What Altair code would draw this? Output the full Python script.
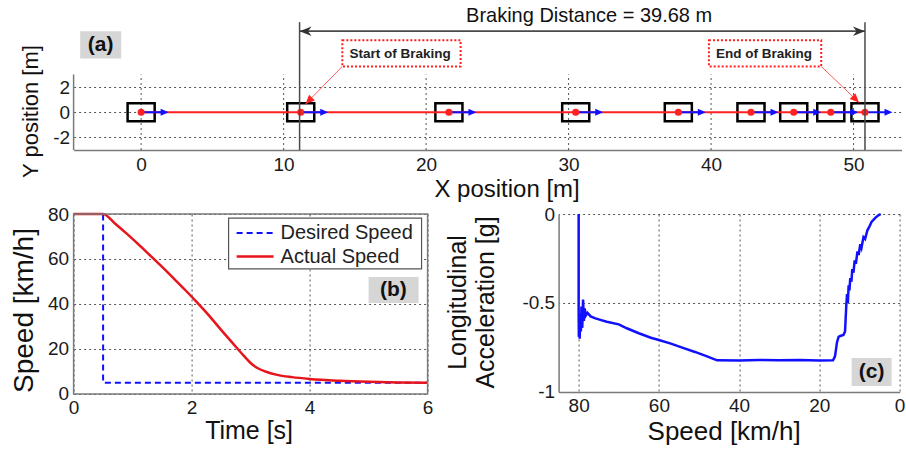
import altair as alt
import pandas as pd

FONT = "Liberation Sans"
RED = "#ff2020"
BLUE = "#1010ff"
GRID = "#555555"
AXIS = "#7a7a7a"
TAG_BG = "#d6d6d6"

# (a) vehicle trajectory
car_x = [0.0, 11.2, 21.6, 30.5, 37.7, 42.8, 45.8, 48.4, 50.8]
brake_start = 11.12
braking_distance = 39.68
x_ticks_a = [0, 10, 20, 30, 40, 50]
y_ticks_a = [-2, 0, 2]

# (b) speed vs time
t_desired = [0.0, 0.5, 0.5, 6.0]
v_desired = [80, 80, 5, 5]
t_actual = [0.0, 0.5, 0.7, 0.9, 1.1, 1.3, 1.5, 1.7, 1.9, 2.1, 2.3, 2.5,
            2.7, 2.85, 3.0, 3.1, 3.25, 3.45, 3.7, 4.0, 4.5, 5.0, 5.5, 6.0]
v_actual = [80, 80, 75.8, 71.3, 66.5, 61.5, 56.5, 51.3, 46.0, 40.5, 34.7, 28.5,
            22.5, 18.0, 13.8, 11.8, 10.0, 8.5, 7.5, 6.7, 5.9, 5.4, 5.1, 5.0]
series_names = ["Desired Speed", "Actual Speed"]
t_ticks_b = [0, 2, 4, 6]
v_ticks_b = [0, 20, 40, 60, 80]

# (c) longitudinal acceleration vs speed
speed_c = [80.0, 80.0, 79.95, 79.85, 79.75, 79.6, 79.45, 79.3, 79.1, 78.9,
           78.7, 78.5, 78.2, 77.8, 77.0, 76.0, 75.0, 73.0, 70.0, 68.0,
           65.0, 62.0, 60.0, 57.0, 54.0, 51.0, 48.0, 45.5, 40.0, 35.0,
           30.0, 25.0, 20.0, 16.6, 16.1, 15.6, 15.2, 14.8, 14.0, 13.6,
           13.3, 13.1, 12.9, 12.7, 12.5, 12.3, 12.0, 11.8, 11.5, 11.2,
           10.9, 10.5, 10.2, 9.8, 9.5, 9.0, 8.6, 8.0, 7.5, 7.0,
           6.0, 5.2, 4.7]
accel_c = [0.0, -0.55, -0.69, -0.60, -0.70, -0.56, -0.66, -0.52, -0.64, -0.48,
           -0.60, -0.53, -0.57, -0.555, -0.575, -0.585, -0.592, -0.605, -0.62, -0.642,
           -0.67, -0.695, -0.708, -0.728, -0.752, -0.775, -0.80, -0.822, -0.823, -0.82,
           -0.822, -0.82, -0.823, -0.822, -0.80, -0.72, -0.69, -0.685, -0.68, -0.66,
           -0.52, -0.45, -0.50, -0.40, -0.43, -0.36, -0.38, -0.31, -0.33, -0.26,
           -0.28, -0.21, -0.23, -0.17, -0.19, -0.13, -0.14, -0.09, -0.07, -0.045,
           -0.02, -0.006, 0.0]
speed_ticks_c = [0, 20, 40, 60, 80]
accel_ticks_c = [-1, -0.5, 0]

# arrowhead glyphs (tip at the origin)
HEAD_RIGHT = "M0,0L-1,-0.45L-1,0.45Z"
HEAD_UP = "M0,0L-0.45,1L0.45,1Z"
STEALTH_R = "M0,0L-1,-0.4L-0.7,0L-1,0.4Z"
STEALTH_L = "M0,0L1,-0.4L0.7,0L1,0.4Z"


def axis(**kw):
    base = dict(labelFont=FONT, labelFontSize=19, labelColor="#1a1a1a", labelFlush=False,
                labelOverlap=False, ticks=False, tickSize=0, titleFont=FONT,
                titleFontWeight="normal", titleColor="#111111", gridColor=GRID,
                gridDash=[2, 3], gridWidth=1, domainColor=AXIS, domainWidth=1.5)
    base.update(kw)
    return alt.Axis(**base)


def tag(df, X, Y, size=21):
    box = alt.Chart(df).mark_rect(fill=TAG_BG).encode(x=X("x0"), x2="x1", y=Y("y0"), y2="y1")
    txt = alt.Chart(df).mark_text(font=FONT, fontSize=size, fontWeight="bold", color="#111111",
                                  align="center", baseline="middle").encode(
        x=X("tx"), y=Y("ty"), text="label:N")
    return [box, txt]


# ---------------- panel (a) ----------------
XMIN, XMAX = -4.74, 53.37
SC_XA = alt.Scale(domain=[XMIN, XMAX], nice=False, zero=False)
SC_YA = alt.Scale(domain=[-3, 8.92], nice=False, zero=False)
AX_XA = axis(values=x_ticks_a, grid=False, labelPadding=5, title="X position [m]",
             titleFontSize=24, titleX=433, titleY=46, titleBaseline="alphabetic",
             titleAlign="center")
AX_YA = axis(values=y_ticks_a, grid=True, domain=False, labelPadding=4,
             labelExpr="toString(datum.value)", title="Y position [m]", titleFontSize=22,
             titleAngle=270, titleX=-36, titleY=111, titleBaseline="alphabetic",
             titleAlign="center")


def XA(f):
    return alt.X(f, type="quantitative", scale=SC_XA, axis=AX_XA)


def YA(f):
    return alt.Y(f, type="quantitative", scale=SC_YA, axis=AX_YA)


brake_end = brake_start + braking_distance
CAR_HALF_LEN, CAR_HALF_W, ARROW_LEN = 0.95, 0.72, 1.93

cars = pd.DataFrame({"x": car_x})
cars["x0"] = cars["x"] - CAR_HALF_LEN
cars["x1"] = cars["x"] + CAR_HALF_LEN
cars["y0"] = -CAR_HALF_W
cars["y1"] = CAR_HALF_W
cars["y"] = 0.0
cars["tip"] = cars["x"] + ARROW_LEN
cars["shaft"] = cars["x"] + ARROW_LEN - 0.4

vgrid = alt.Chart(pd.DataFrame({"x": x_ticks_a, "y": [-3] * len(x_ticks_a),
                                "y2": [3] * len(x_ticks_a)})).mark_rule(
    color=GRID, strokeDash=[2, 3], strokeWidth=1).encode(x=XA("x"), y=YA("y"), y2="y2")
left_line = alt.Chart(pd.DataFrame({"x": [XMIN], "y": [-3], "y2": [3]})).mark_rule(
    color=AXIS, strokeWidth=1.5).encode(x=XA("x"), y=YA("y"), y2="y2")
path = alt.Chart(pd.DataFrame({"x": [car_x[0]], "x2": [car_x[-1]], "y": [0.0]})).mark_rule(
    color=RED, strokeWidth=2).encode(x=XA("x"), x2="x2", y=YA("y"))
boxes = alt.Chart(cars).mark_rect(fillOpacity=0, stroke="black", strokeWidth=2.5).encode(
    x=XA("x0"), x2="x1", y=YA("y0"), y2="y1")
shafts = alt.Chart(cars).mark_rule(color=BLUE, strokeWidth=2).encode(
    x=XA("x"), x2="shaft", y=YA("y"))
heads = alt.Chart(cars).mark_point(shape=HEAD_RIGHT, filled=True, size=256, color=BLUE,
                                   opacity=1).encode(x=XA("tip"), y=YA("y"))
dots = alt.Chart(cars).mark_circle(size=50, color=RED, opacity=1).encode(x=XA("x"), y=YA("y"))

marks_df = pd.DataFrame({"x": [brake_start, brake_end], "y": [-3, -3], "y2": [7.16, 7.16]})
brake_lines = alt.Chart(marks_df).mark_rule(color="#4a4a4a", strokeWidth=1.5).encode(
    x=XA("x"), y=YA("y"), y2="y2")
dist_df = pd.DataFrame({"x": [brake_start], "x2": [brake_end], "y": [6.44]})
dist_line = alt.Chart(dist_df).mark_rule(color="#4a4a4a", strokeWidth=1.8).encode(
    x=XA("x"), x2="x2", y=YA("y"))
dist_left = alt.Chart(dist_df).mark_point(shape=STEALTH_L, filled=True, size=576,
                                          color="#333333", opacity=1).encode(x=XA("x"), y=YA("y"))
dist_right = alt.Chart(dist_df).mark_point(shape=STEALTH_R, filled=True, size=576,
                                           color="#333333", opacity=1).encode(x=XA("x2"), y=YA("y"))
dist_text = alt.Chart(pd.DataFrame({
    "x": [31.44], "y": [7.16],
    "label": [f"Braking Distance = {braking_distance:.2f} m"]})).mark_text(
    font=FONT, fontSize=20, color="#111111", align="center", baseline="alphabetic").encode(
    x=XA("x"), y=YA("y"), text="label:N")

callouts = pd.DataFrame({
    "x0": [14.12, 39.85], "x1": [22.42, 47.73], "y0": [3.64, 3.64], "y1": [5.72, 5.72],
    "tx": [18.18, 43.71], "ty": [4.66, 4.66], "label": ["Start of Braking", "End of Braking"],
    "ax": [14.12, 47.73], "ay": [3.64, 3.64], "bx": [11.54, 50.38], "by": [0.66, 0.78],
    "ang": [225, 134]})
call_box = alt.Chart(callouts).mark_rect(fill="white", stroke=RED, strokeDash=[2, 2],
                                         strokeWidth=2).encode(
    x=XA("x0"), x2="x1", y=YA("y0"), y2="y1")
call_text = alt.Chart(callouts).mark_text(font=FONT, fontSize=13.5, fontWeight="bold",
                                          color="#222222", align="center",
                                          baseline="middle").encode(
    x=XA("tx"), y=YA("ty"), text="label:N")
call_line = alt.Chart(callouts).mark_rule(color="#ff5a5a", strokeWidth=1).encode(
    x=XA("ax"), y=YA("ay"), x2="bx", y2="by")
call_head = alt.Chart(callouts).mark_point(shape=HEAD_UP, filled=True, size=324, color=RED,
                                           opacity=1).encode(
    x=XA("bx"), y=YA("by"), angle=alt.Angle("ang:Q", scale=None))

tag_a = pd.DataFrame({"x0": [-4.28], "x1": [-1.40], "y0": [4.28], "y1": [6.44],
                      "tx": [-2.84], "ty": [5.36], "label": ["(a)"]})

panel_a = alt.layer(
    vgrid, left_line, boxes, path, shafts, heads, dots, brake_lines, dist_line, dist_left,
    dist_right, dist_text, call_line, call_head, call_box, call_text, *tag(tag_a, XA, YA)
).properties(width=828, height=150)

# ---------------- panel (b) ----------------
SC_XB = alt.Scale(domain=[0, 6], nice=False, zero=False)
SC_YB = alt.Scale(domain=[0, 80], nice=False, zero=False)
AX_XB = axis(values=t_ticks_b, grid=True, domain=False, labelPadding=5, title="Time [s]",
             titleFontSize=25, titleX=175, titleY=45, titleBaseline="alphabetic",
             titleAlign="center")
AX_YB = axis(values=v_ticks_b, grid=True, domain=False, labelPadding=5, title="Speed [km/h]",
             titleFontSize=28, titleAngle=270, titleX=-41, titleY=96,
             titleBaseline="alphabetic", titleAlign="center")


def XB(f):
    return alt.X(f, type="quantitative", scale=SC_XB, axis=AX_XB)


def YB(f):
    return alt.Y(f, type="quantitative", scale=SC_YB, axis=AX_YB)


desired = pd.DataFrame({"t": t_desired, "v": v_desired, "i": range(len(t_desired))})
actual = pd.DataFrame({"t": t_actual, "v": v_actual, "i": range(len(t_actual))})
line_des = alt.Chart(desired).mark_line(color=BLUE, strokeDash=[6, 4], strokeWidth=2).encode(
    x=XB("t"), y=YB("v"), order="i:Q")
line_act = alt.Chart(actual).mark_line(color="#e8141c", strokeWidth=2.5,
                                       interpolate="monotone").encode(
    x=XB("t"), y=YB("v"), order="i:Q")

leg_box = alt.Chart(pd.DataFrame({"x0": [2.627], "x1": [5.898], "y0": [55.6], "y1": [78.2]})
                    ).mark_rect(fill="white", stroke="#555555", strokeWidth=1.2).encode(
    x=XB("x0"), x2="x1", y=YB("y0"), y2="y1")
leg_rows = pd.DataFrame({"x0": [2.763, 2.763], "x1": [3.39, 3.39], "y": [71.6, 61.1],
                         "tx": [3.508, 3.508], "label": series_names})
leg_des = alt.Chart(leg_rows.iloc[[0]]).mark_rule(color=BLUE, strokeDash=[6, 4],
                                                  strokeWidth=2).encode(
    x=XB("x0"), x2="x1", y=YB("y"))
leg_act = alt.Chart(leg_rows.iloc[[1]]).mark_rule(color="#e8141c", strokeWidth=2.5).encode(
    x=XB("x0"), x2="x1", y=YB("y"))
leg_txt = alt.Chart(leg_rows).mark_text(font=FONT, fontSize=20, color="#222222", align="left",
                                        baseline="middle").encode(
    x=XB("tx"), y=YB("y"), text="label:N")
frame_b = alt.Chart(pd.DataFrame({"x0": [0], "x1": [6], "y0": [0], "y1": [80]})).mark_rect(
    fillOpacity=0, stroke=AXIS, strokeWidth=1.5).encode(x=XB("x0"), x2="x1", y=YB("y0"), y2="y1")
tag_b = pd.DataFrame({"x0": [5.0], "x1": [5.847], "y0": [40.44], "y1": [52.0],
                      "tx": [5.42], "ty": [46.2], "label": ["(b)"]})

panel_b = alt.layer(
    line_des, line_act, frame_b, leg_box, leg_des, leg_act, leg_txt, *tag(tag_b, XB, YB)
).properties(width=354, height=180)

# ---------------- panel (c) ----------------
SC_XC = alt.Scale(domain=[0, 85], reverse=True, nice=False, zero=False)
SC_YC = alt.Scale(domain=[-1, 0], nice=False, zero=False)
AX_XC = axis(values=speed_ticks_c, grid=True, domain=True, labelPadding=5,
             title="Speed [km/h]", titleFontSize=26, titleX=165, titleY=48,
             titleBaseline="alphabetic", titleAlign="center")
AX_YC = axis(values=accel_ticks_c, grid=True, domain=True, labelPadding=4,
             labelExpr="toString(datum.value)", title=["Longitudinal", "Acceleration [g]"],
             titleFontSize=25, titleAngle=270, titleX=-93, titleY=88, titleLineHeight=28,
             titleBaseline="alphabetic", titleAlign="center")


def XC(f):
    return alt.X(f, type="quantitative", scale=SC_XC, axis=AX_XC)


def YC(f):
    return alt.Y(f, type="quantitative", scale=SC_YC, axis=AX_YC)


accel = pd.DataFrame({"s": speed_c, "a": accel_c, "i": range(len(speed_c))})
line_c = alt.Chart(accel).mark_line(color=BLUE, strokeWidth=2.5).encode(
    x=XC("s"), y=YC("a"), order="i:Q")
tag_c = pd.DataFrame({"x0": [11.96], "x1": [1.99], "y0": [-0.966], "y1": [-0.809],
                      "tx": [6.98], "ty": [-0.888], "label": ["(c)"]})

panel_c = alt.layer(line_c, *tag(tag_c, XC, YC)).properties(width=341, height=178)

chart = alt.vconcat(
    panel_a,
    alt.hconcat(panel_b, panel_c, spacing=131, bounds="flush"),
    spacing=64, bounds="flush",
).properties(
    padding={"left": 9.6, "top": 0, "right": 0, "bottom": 0},
    background="white",
).configure_view(strokeWidth=0)

chart.save("out.html", embed_options={"renderer": "svg", "actions": False})
